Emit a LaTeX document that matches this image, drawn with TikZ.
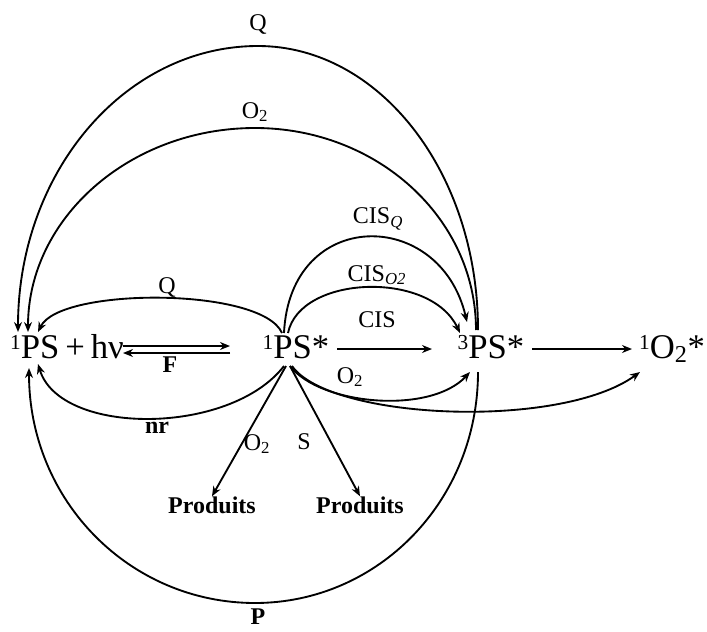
\documentclass[tikz,border=0pt]{standalone}
\usepackage{fontspec}
\setmainfont{Liberation Serif}
\usetikzlibrary{arrows.meta}
\newcommand{\smallsup}[1]{\raisebox{6.5pt}{\fontsize{16}{16}\selectfont #1}}
\begin{document}
\begin{tikzpicture}[x=0.75pt,y=-0.75pt,
  conn/.style={line width=1.4pt,-{Stealth[length=7.5pt,width=6pt]}},
  big/.style={inner sep=0pt,anchor=base,font=\fontsize{26}{30}\selectfont},
  lab/.style={inner sep=0pt,font=\fontsize{18}{21}\selectfont},
  blab/.style={inner sep=0pt,font=\bfseries\fontsize{18}{21}\selectfont}]
\useasboundingbox (0,0) rectangle (707,632);
% main states
\node[big] (n1) at (67,358) {\smallsup{1}PS\hspace{0.17em}+\hspace{0.17em}hν};
\node[big] (n2) at (296,358) {\smallsup{1}PS*};
\node[big] (n3) at (491,358) {\smallsup{3}PS*};
\node[big] (n4) at (672,358) {\smallsup{1}O\textsubscript{2}*};
\node[blab] (pl) at (212,505) {Produits};
\node[blab] (pr) at (360,505) {Produits};
% attachment points
\coordinate (l1) at (18,332);
\coordinate (l2) at (28,332);
\coordinate (l3) at (38,332);
\coordinate (l4) at (38,364);
\coordinate (l5) at (29,368);
\coordinate (r1) at (478,330);
\coordinate (r2) at (476,330);
\coordinate (r3) at (478,372);
\coordinate (s1) at (282,333);
\coordinate (s2) at (284,333);
\coordinate (s3) at (288,333);
\coordinate (t1) at (467,322);
\coordinate (t2) at (460,333);
\coordinate (b1) at (284,366);
\coordinate (b2) at (290,366);
\coordinate (b3) at (292,366);
\coordinate (b4) at (286,366);
\coordinate (b5) at (290,366);
\coordinate (t3) at (470,372);
\coordinate (t4) at (640,372);
\coordinate (fa) at (123,346);
\coordinate (fb) at (230,346);
\coordinate (fc) at (230,353);
\coordinate (fd) at (123,353);
\coordinate (ca) at (337,349);
\coordinate (cb) at (432,349);
\coordinate (oa) at (532,349);
\coordinate (ob) at (632,349);
% big Q arc
\draw[conn] (r1) .. controls (478,172) and (379,46) .. (258,46)
  .. controls (125,46) and (18,172) .. (l1);
\node[lab] (lq) at (258,24) {Q};
% big O2 arc
\draw[conn] (r2) .. controls (476,218) and (377,128) .. (255,128)
  .. controls (130,128) and (28,218) .. (l2);
\node[lab] (lo1) at (255,112) {O\textsubscript{2}};
% small Q arc
\draw[conn] (s1) .. controls (262,287) and (60,287) .. (l3);
\node[lab] (lq2) at (167,287) {Q};
% CIS_Q
\draw[conn] (s2) .. controls (290,207) and (440,207) .. (t1);
\node[lab] (lcq) at (378,219) {CIS\textsubscript{\textit{Q}}};
% CIS_O2
\draw[conn] (s3) .. controls (300,275) and (430,270) .. (t2);
\node[lab] (lco) at (377,275) {CIS\textsubscript{\textit{O2}}};
% F
\draw[conn] (fa) -- (fb);
\draw[conn] (fc) -- (fd);
\node[blab] (lf) at (170,365) {F};
% CIS
\draw[conn] (ca) -- (cb);
\node[lab] (lc) at (377,320) {CIS};
% 3PS -> 1O2
\draw[conn] (oa) -- (ob);
% nr
\draw[conn] (b1) .. controls (230,436) and (60,436) .. (l4);
\node[blab] (lnr) at (157,428) {nr};
% P
\draw[conn] (r3) .. controls (478,501) and (378,603) .. (255,603)
  .. controls (130,603) and (29,501) .. (l5);
\node[blab] (lp) at (258,617) {P};
% O2 -> 3PS
\draw[conn] (b2) .. controls (320,405) and (430,415) .. (t3);
\node[lab] (lo2) at (350,377) {O\textsubscript{2}};
% O2 -> 1O2*
\draw[conn] (b3) .. controls (330,420) and (560,430) .. (t4);
% products
\draw[conn] (b4) -- (pl.north);
\draw[conn] (b5) -- (pr.north);
\node[lab] (lo3) at (257,444) {O\textsubscript{2}};
\node[lab] (ls) at (304,442) {S};
\end{tikzpicture}
\end{document}
